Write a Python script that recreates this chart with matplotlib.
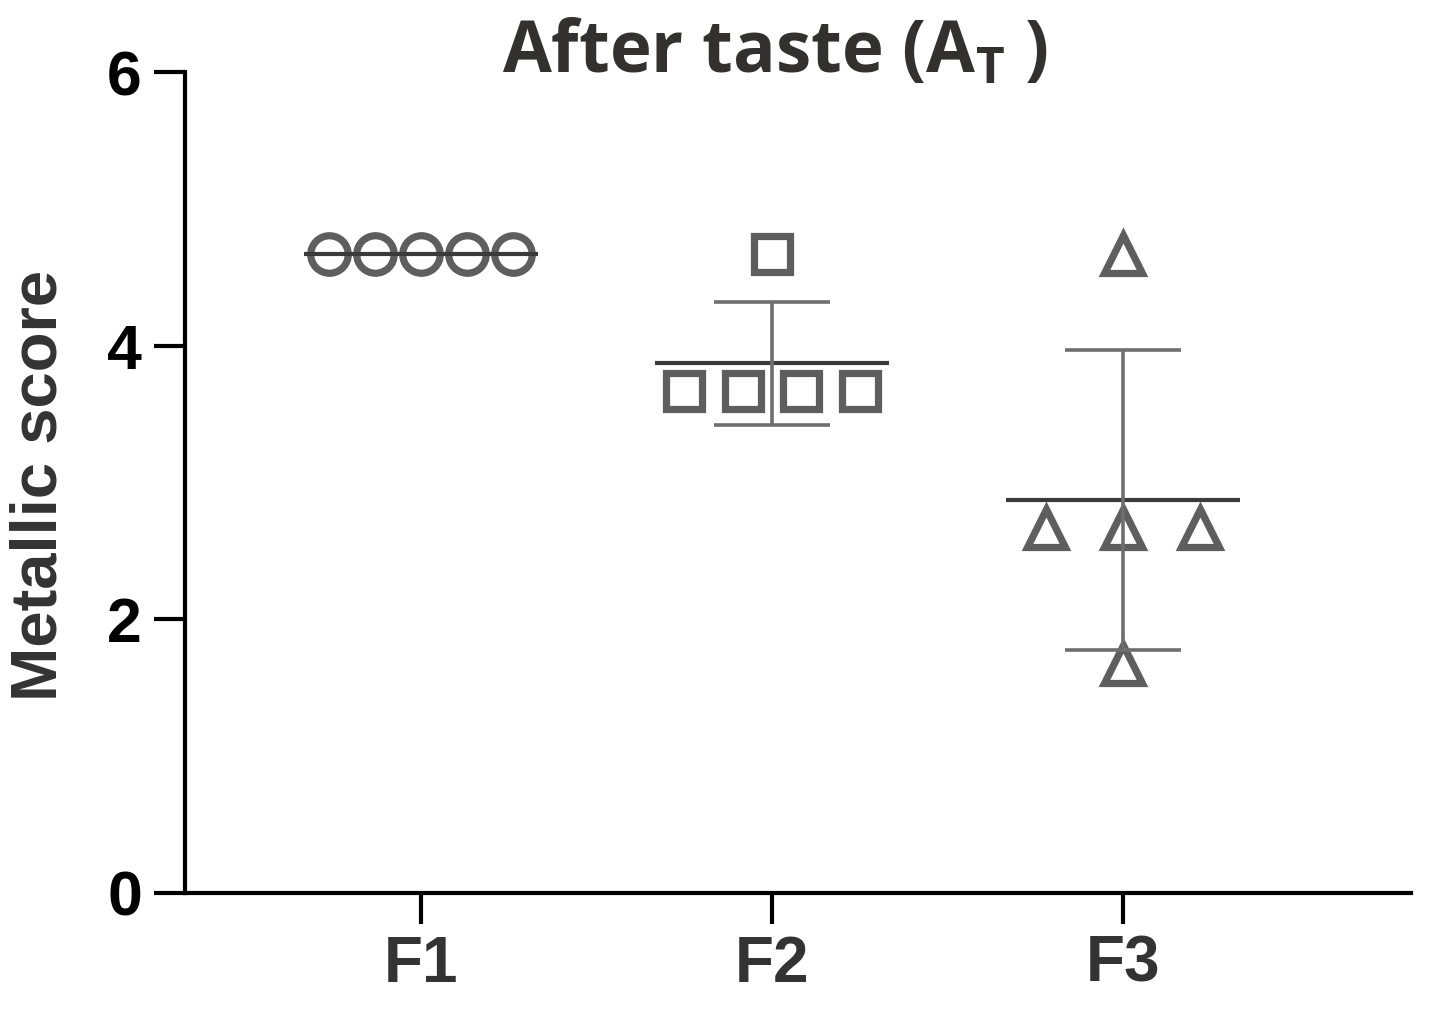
import matplotlib
matplotlib.use("Agg")
import matplotlib.pyplot as plt
import numpy as np

# data
groups = ["F1", "F2", "F3"]
f1_scores = [4.67, 4.67, 4.67, 4.67, 4.67]
f2_scores = [4.67, 3.67, 3.67, 3.67, 3.67]
f3_scores = [4.67, 2.67, 2.67, 2.67, 1.67]
yticks = [0, 2, 4, 6]

# horizontal spread of the points inside each column (as drawn)
f1_offsets = [-0.262, -0.131, 0.0, 0.131, 0.262]
f2_offsets = [0.0, -0.25, -0.083, 0.083, 0.25]
f3_offsets = [0.0, -0.22, 0.0, 0.22, 0.0]

plt.rcParams["mathtext.fontset"] = "custom"
plt.rcParams["mathtext.rm"] = "Open Sans:bold"
plt.rcParams["mathtext.bf"] = "Open Sans:bold"

fig = plt.figure(figsize=(14.37, 10.10), dpi=100)
ax = fig.add_axes([185 / 1437, 117 / 1010, (1411 - 185) / 1437, (893 - 72) / 1010])

marker_color = "#5e5e5e"
bar_color = "#6e6e6e"
mean_color = "#3a3a3a"

series = [
    (f1_scores, f1_offsets, "o", 27),
    (f2_scores, f2_offsets, "s", 26.5),
    (f3_scores, f3_offsets, "^", 27),
]

for i, (scores, offs, mk, ms) in enumerate(series):
    scores = np.array(scores)
    xs = i + np.array(offs)
    ax.plot(xs, scores, linestyle="none", marker=mk, markersize=ms,
            markerfacecolor="none", markeredgecolor=marker_color,
            markeredgewidth=5.2, zorder=2)
    m = scores.mean()
    sd = scores.std(ddof=1)
    ax.hlines(m, i - 0.334, i + 0.334, color=mean_color, lw=3, zorder=3)
    if sd > 0:
        ax.vlines(i, m - sd, m + sd, color=bar_color, lw=2.6, zorder=3)
        ax.hlines([m - sd, m + sd], i - 0.165, i + 0.165, color=bar_color,
                  lw=2.6, zorder=3)

ax.set_xlim(-0.672, 2.82)
ax.set_ylim(0, 6)
ax.set_xticks(range(len(groups)))
ax.set_xticklabels(groups)
ax.set_yticks(yticks)

for s in ["top", "right"]:
    ax.spines[s].set_visible(False)
for s in ["left", "bottom"]:
    ax.spines[s].set_linewidth(3)
    ax.spines[s].set_color("black")

ax.tick_params(axis="both", length=22, width=3, color="black")
ax.tick_params(axis="y", pad=9, labelsize=45)
ax.tick_params(axis="x", pad=8, labelsize=46, labelcolor="#333333")
for lab in ax.get_xticklabels() + ax.get_yticklabels():
    lab.set_fontfamily("Liberation Sans")
    lab.set_fontweight("bold")

fig.text(40 / 1437, 1 - 485 / 1010, "Metallic score", rotation=90,
         ha="center", va="center", fontsize=47, fontweight="bold",
         family="Liberation Sans", color="#333333")

fig.text(775 / 1437, 1 - 72 / 1010, r"After taste ($\mathbf{A}_{\mathbf{T}}$ )",
         ha="center", va="baseline", fontsize=51, fontweight="bold",
         family="Open Sans", color="#333030")

fig.savefig("out.png", dpi=100)
